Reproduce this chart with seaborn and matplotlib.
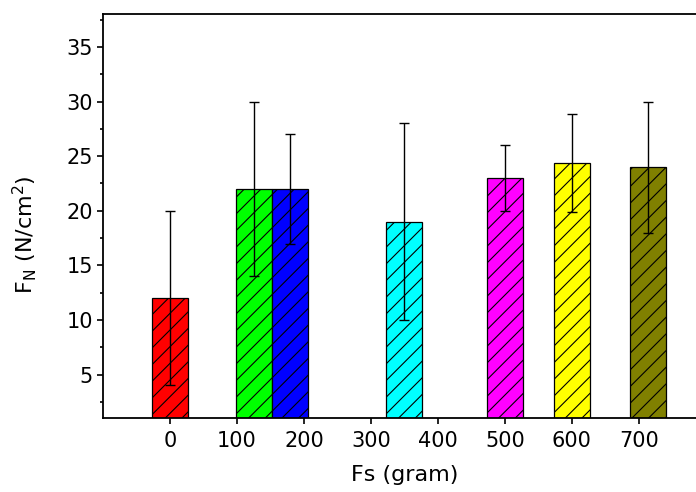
import pandas as pd
import matplotlib.pyplot as plt
import numpy as np
import seaborn as sns
from matplotlib.ticker import MultipleLocator

# Values
bar_x = [0, 125, 179, 350, 500, 600, 714]
labels = ['0', '100', '150', '350', '500', '600', '700']
fn_mean = [12, 22, 22, 19, 23, 24.4, 24]
fn_err = [8, 8, 5, 9, 3, 4.5, 6]
bar_colors = ['#ff0000', '#00ff00', '#0000ff', '#00ffff', '#ff00ff', '#ffff00', '#808000']
xtick_vals = [0, 100, 200, 300, 400, 500, 600, 700]

data = pd.DataFrame({'x': bar_x, 'label': labels, 'fn': fn_mean})

sns.set_style('ticks', {'axes.edgecolor': 'black', 'xtick.color': 'black',
                        'ytick.color': 'black', 'text.color': 'black',
                        'axes.labelcolor': 'black'})
plt.rcParams['font.family'] = ['DejaVu Sans']
plt.rcParams['mathtext.default'] = 'regular'
plt.rcParams['hatch.linewidth'] = 0.8

fig = plt.figure(figsize=(6.96, 4.92), dpi=100)
ax = fig.add_axes([0.148, 0.150, 0.866, 0.821])

sns.barplot(data=data, x='x', y='fn', hue='label', palette=bar_colors,
            native_scale=True, dodge=False, width=1, errorbar=None,
            saturation=1, legend=False, edgecolor='black', linewidth=0.9, ax=ax)
for bar in ax.patches:
    bar.set_hatch('//')

# Error bars
ax.errorbar(bar_x, fn_mean, yerr=fn_err, fmt='none', ecolor='black',
            elinewidth=1, capsize=3.6, capthick=1)

ax.set_xlim(-100, 800)
ax.set_ylim(1, 38)
ax.set_xticks(xtick_vals)
ax.set_xticklabels([str(v) for v in xtick_vals])
ax.yaxis.set_major_locator(MultipleLocator(5))
ax.yaxis.set_minor_locator(MultipleLocator(2.5))
ax.set_yticks([5, 10, 15, 20, 25, 30, 35])
ax.tick_params(axis='both', labelsize=15, width=1.2, length=4.3, direction='out')
ax.tick_params(axis='x', pad=5)
ax.tick_params(axis='y', pad=3)
ax.tick_params(axis='y', which='minor', width=1.2, length=2.5)

ax.set_xlabel('Fs (gram)', fontsize=16)
ax.set_ylabel('F$_N$ (N/cm$^2$)', fontsize=16)
ax.xaxis.set_label_coords(0.5, -0.117)
ax.yaxis.set_label_coords(-0.106, 0.455)

for side in ['left', 'bottom', 'top']:
    ax.spines[side].set_linewidth(1.3)
ax.spines['right'].set_visible(False)

plt.savefig('out.png', dpi=100)
